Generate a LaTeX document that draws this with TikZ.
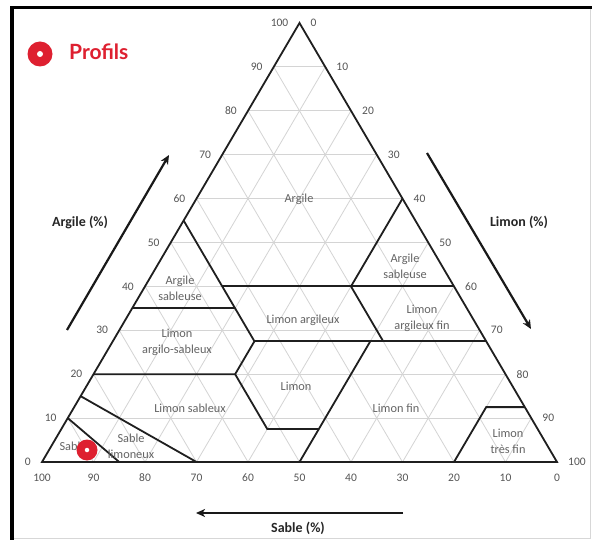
\documentclass[tikz,border=0pt]{standalone}
\usepackage{fontspec}
\setmainfont{Carlito}
\newfontfamily\latofont{Lato}
\usetikzlibrary{arrows.meta}
\definecolor{gridgray}{RGB}{212,212,212}
\definecolor{ticktext}{RGB}{85,85,85}
\definecolor{zonetext}{RGB}{100,100,100}
\definecolor{profred}{RGB}{222,32,48}
\definecolor{framegray}{RGB}{215,215,215}
\newcommand{\tc}[3]{\coordinate (#1) at ({42+5.15*((#3)+(#2)/2)},{462-4.39*(#2)});}
\tikzset{
  gridline/.style={draw=gridgray, line width=0.8pt},
  zoneline/.style={draw=black!88, line width=1.8pt, line join=miter},
  ticklab/.style={text=ticktext, font=\fontsize{11.5}{12}\selectfont, inner sep=0pt},
  zonelab/.style={text=zonetext, font=\fontsize{12.3}{16}\selectfont, align=center, inner sep=0pt},
  axtitle/.style={text=black!85, font=\bfseries\fontsize{14}{16}\selectfont, inner sep=0pt},
  axarrow/.style={draw=black!90, line width=2.2pt, -{Stealth[length=9pt,width=8pt,inset=2.5pt]}},
}
\begin{document}
\begin{tikzpicture}[x=1pt,y=-1pt]
\useasboundingbox (0,0) rectangle (592,540);
\fill[white] (0,0) rectangle (592,540);
% frame
\draw[framegray, line width=0.8pt] (14,538.5) -- (590,538.5) -- (590,9);
\draw[black, line width=4pt] (12,540) -- (12,6);
\draw[black, line width=3pt] (10,8) -- (592,8);
% grid
\foreach \k in {10,20,...,90}{
  \draw[gridline] ({42+2.575*\k},{462-4.39*\k}) -- ({557-2.575*\k},{462-4.39*\k});
  \draw[gridline] ({42+5.15*\k},462) -- ({42+5.15*(50+\k/2)},{462-4.39*(100-\k)});
  \draw[gridline] ({42+5.15*(100-\k)},462) -- ({42+2.575*(100-\k)},{462-4.39*(100-\k)});
}
% ternary points (name, clay, silt)
\tc{BL}{0}{0}\tc{BR}{0}{100}\tc{AP}{100}{0}
\tc{A1}{55}{0}\tc{A2}{27.5}{27.5}
\tc{A3}{35}{0}\tc{A4}{35}{20}
\tc{A5}{40}{15}\tc{A6}{40}{60}
\tc{R1}{60}{40}\tc{R2}{40}{40}\tc{R4}{27.5}{52.5}
\tc{CR}{27.5}{72.5}
\tc{L1}{27.5}{50}\tc{L2}{7.5}{50}\tc{L3}{0}{50}
\tc{L4}{7.5}{40}\tc{L5}{20}{27.5}
\tc{CL}{20}{0}
\tc{S1}{15}{0}\tc{S2}{0}{30}
\tc{T1}{10}{0}\tc{T2}{0}{15}
\tc{V1}{0}{80}\tc{V2}{12.5}{80}\tc{V3}{12.5}{87.5}
% zone boundaries
\draw[zoneline] (A1) -- (A2);
\draw[zoneline] (A3) -- (A4);
\draw[zoneline] (A5) -- (A6);
\draw[zoneline] (R1) -- (R2) -- (R4);
\draw[zoneline] (A2) -- (CR);
\draw[zoneline] (A2) -- (L5) -- (CL);
\draw[zoneline] (L5) -- (L4) -- (L2);
\draw[zoneline] (L1) -- (L3);
\draw[zoneline] (S1) -- (S2);
\draw[zoneline] (T1) -- (T2);
\draw[zoneline] (V1) -- (V2) -- (V3);
\draw[zoneline] (BL) -- (BR) -- (AP) -- cycle;
% tick labels
\foreach \v in {0,10,...,100}{
  \node[ticklab, anchor=east] (lt\v) at ({42+2.575*\v-11},{462-4.39*\v}) {\v};
  \node[ticklab, anchor=west] (rt\v) at ({42+5.15*(\v+(100-\v)/2)+11},{462-4.39*(100-\v)}) {\v};
  \node[ticklab] (bt\v) at ({42+5.15*(100-\v)},478) {\v};
}
% zone labels
\node[zonelab] (zArg) at (299,199) {Argile};
\node[zonelab] (zAsL) at (180,288) {Argile\\sableuse};
\node[zonelab] (zAsR) at (405,266) {Argile\\sableuse};
\node[zonelab] (zLa) at (303,320) {Limon argileux};
\node[zonelab] (zLaf) at (422,318) {Limon\\argileux fin};
\node[zonelab] (zLas) at (177,342) {Limon\\argilo-sableux};
\node[zonelab] (zL) at (296,386) {Limon};
\node[zonelab] (zLs) at (190,408) {Limon sableux};
\node[zonelab] (zLf) at (396,408) {Limon fin};
\node[zonelab] (zLtf) at (508,441) {Limon\\très fin};
\node[zonelab] (zS) at (73,446) {Sable};
\node[zonelab] (zSl) at (131,446) {Sable\\limoneux};
% sample marker
\node[circle, fill=profred, minimum size=21pt, inner sep=0pt] (pt) at (87,450) {};
\node[circle, fill=white, minimum size=4.5pt, inner sep=0pt] (ptc) at (pt.center) {};
% axis arrows and titles
\coordinate (laS) at (67,330); \coordinate (laE) at (169,155);
\coordinate (raS) at (427,153); \coordinate (raE) at (531,329);
\coordinate (baS) at (403,513); \coordinate (baE) at (196,513);
\draw[axarrow] (laS) -- (laE);
\draw[axarrow] (raS) -- (raE);
\draw[axarrow] (baS) -- (baE);
\node[axtitle] (tArg) at (80,222) {Argile (\%)};
\node[axtitle] (tLim) at (519,222) {Limon (\%)};
\node[axtitle] (tSab) at (298,528) {Sable (\%)};
% legend
\node[circle, fill=profred, minimum size=25pt, inner sep=0pt] (leg) at (40,54) {};
\node[circle, fill=white, minimum size=6pt, inner sep=0pt] (legc) at (leg.center) {};
\node[anchor=west, text=profred, font=\latofont\bfseries\fontsize{21}{24}\selectfont, inner sep=0pt] (legt) at (69,52) {Profils};
\end{tikzpicture}
\end{document}
